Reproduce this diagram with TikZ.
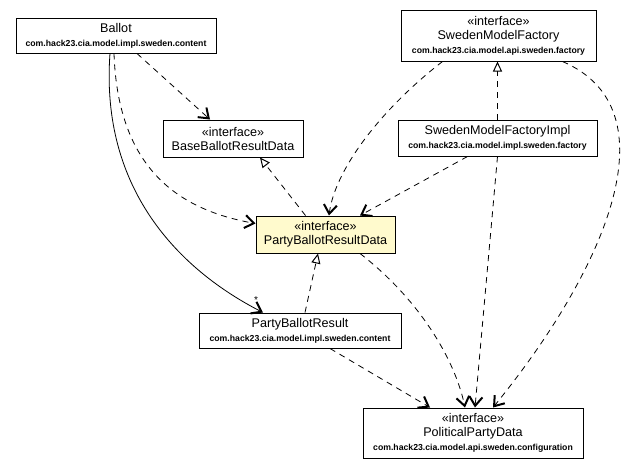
\documentclass[tikz,border=0pt]{standalone}
\usepackage{fontspec}
\setmainfont{Liberation Sans}
\usepackage{tikz}
\usetikzlibrary{arrows.meta, positioning}
\definecolor{noteyellow}{RGB}{255,250,205}
\newcommand{\pkg}[1]{{\fontsize{8.7}{10}\selectfont\bfseries #1}}
\newcommand{\iface}{\guillemotleft interface\guillemotright}
\tikzstyle{dep} = [thick, dashed, dash pattern=on 6pt off 5pt, -{Straight Barb[length=9pt,width=13pt,line width=2pt]}]
\tikzstyle{realize} = [thick, dashed, dash pattern=on 6pt off 5pt, -{Triangle[open,length=10pt,width=9pt,line width=1pt]}]
\tikzstyle{assoc} = [thick, -{Straight Barb[length=9pt,width=13pt,line width=2pt]}]

\begin{document}
\begin{tikzpicture}[
		x=1pt, y=-1pt,
		classbox/.style={rectangle, draw, line width=1pt, fill=#1, align=center, inner sep=0pt,
			font=\fontsize{12.6}{14}\selectfont},
		classbox/.default=white,
		multlabel/.style={font=\fontsize{10}{10}\selectfont, inner sep=0pt}
		]
		\useasboundingbox (0,0) rectangle (633,469);
		% content classes
		\node[classbox, minimum width=200pt, minimum height=35pt] (ballot) at (116,35.5) {Ballot\\\pkg{com.hack23.cia.model.impl.sweden.content}};
		\node[classbox, minimum width=140pt, minimum height=37pt] (baseres) at (233,138.5) {\iface\\BaseBallotResultData};
		\node[classbox=noteyellow, minimum width=139pt, minimum height=37pt] (partyresdata) at (325.5,234.5) {\iface\\PartyBallotResultData};
		\node[classbox, minimum width=202pt, minimum height=35pt] (partyres) at (300,330.5) {PartyBallotResult\\\pkg{com.hack23.cia.model.impl.sweden.content}};
		% factories
		\node[classbox, minimum width=195pt, minimum height=51pt] (factory) at (498.5,35.5) {\iface\\SwedenModelFactory\\\pkg{com.hack23.cia.model.api.sweden.factory}};
		\node[classbox, minimum width=199pt, minimum height=36pt] (factoryimpl) at (497.5,138) {SwedenModelFactoryImpl\\\pkg{com.hack23.cia.model.impl.sweden.factory}};
		% configuration
		\node[classbox, minimum width=220pt, minimum height=50pt] (partydata) at (473,433) {\iface\\PoliticalPartyData\\\pkg{com.hack23.cia.model.api.sweden.configuration}};

		% Ballot relations
		\draw[assoc] ([xshift=-6pt]ballot.south) .. controls (100,190) and (180,270) .. ([xshift=-37pt]partyres.north)
			node[multlabel, at end, xshift=-7pt, yshift=12pt] (mult) {*};
		\draw[dep] ([xshift=21pt]ballot.south) -- ([xshift=-23pt]baseres.north);
		\draw[dep] ([xshift=-2pt]ballot.south) .. controls (118,170) and (180,210) .. ([yshift=11pt]partyresdata.west);
		\draw[realize] ([xshift=-20pt]partyresdata.north) -- ([xshift=27pt]baseres.south);
		\draw[realize] ([xshift=5pt]partyres.north) -- ([xshift=-7.5pt]partyresdata.south);
		% factory relations
		\draw[realize] (factoryimpl.north) -- (factoryimpl.north |- factory.south);
		\draw[dep] ([xshift=-56pt]factory.south) .. controls (380,110) and (335,170) .. ([xshift=3.5pt]partyresdata.north);
		\draw[dep] ([xshift=-30pt]factoryimpl.south) -- ([xshift=34.5pt]partyresdata.north);
		\draw[dep] (factoryimpl.south) -- ([xshift=2pt]partydata.north);
		\draw[dep] ([xshift=64pt]factory.south) .. controls (675,110) and (605,270) .. ([xshift=20pt]partydata.north);
		% to PoliticalPartyData
		\draw[dep] ([xshift=34.5pt]partyresdata.south) .. controls (420,300) and (455,360) .. ([xshift=-8pt]partydata.north);
		\draw[dep] ([xshift=30pt]partyres.south) -- ([xshift=-43pt]partydata.north);
	\end{tikzpicture}
\end{document}
